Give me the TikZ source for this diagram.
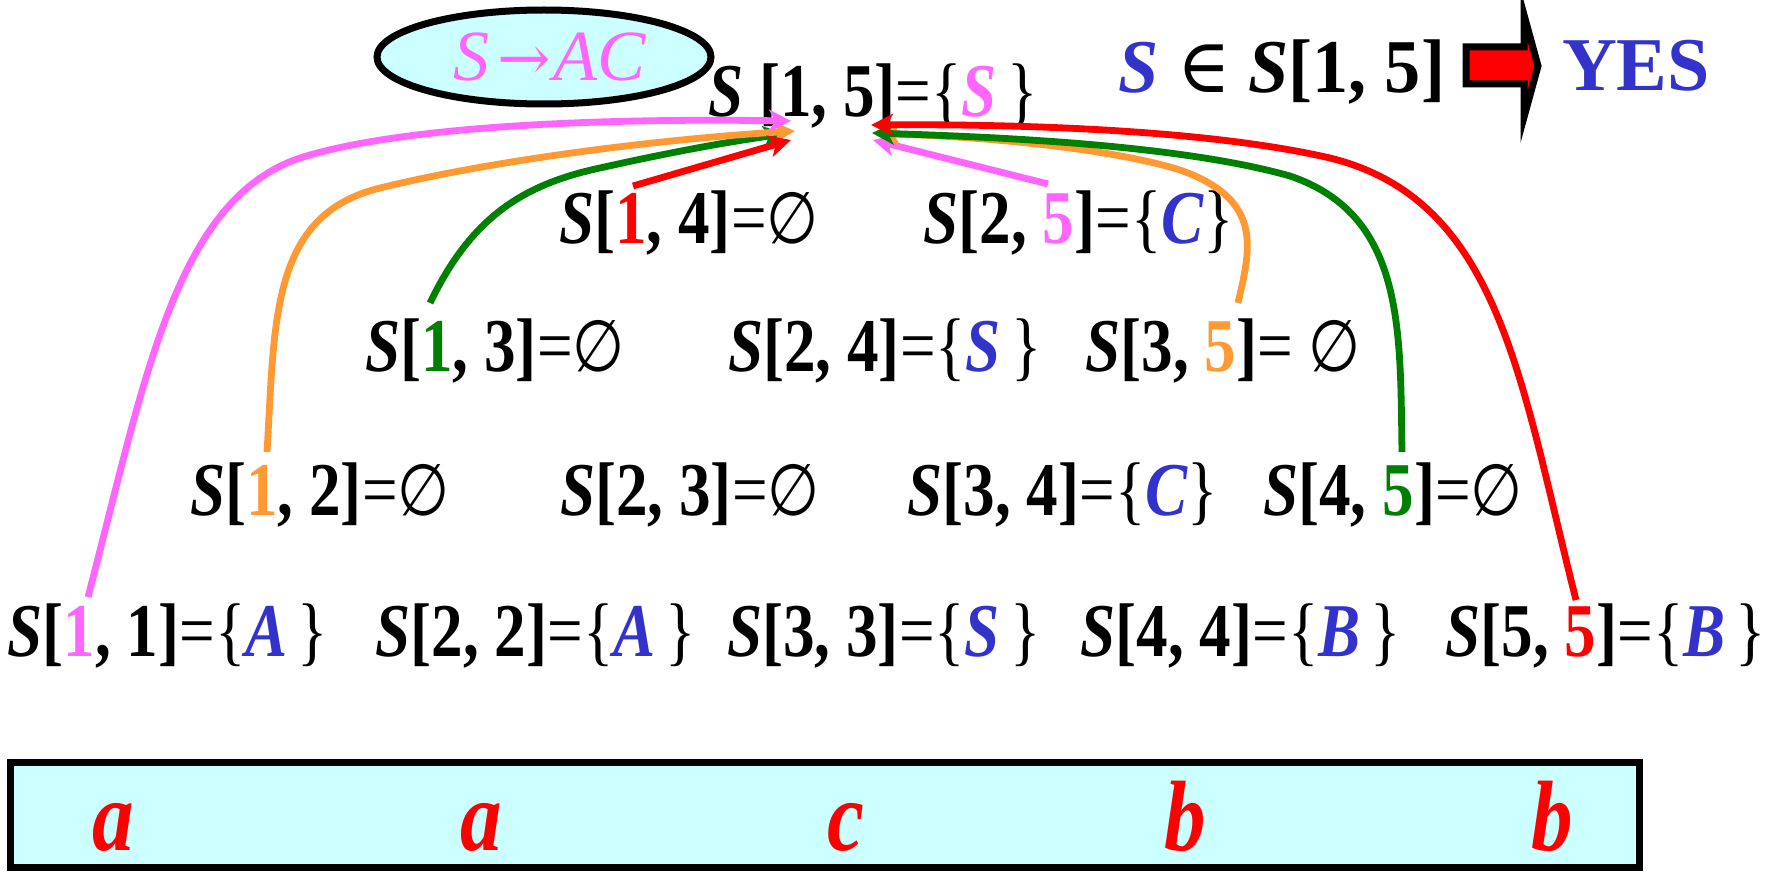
\documentclass[tikz,border=0pt]{standalone}
\usepackage{fontspec}
\setmainfont{Liberation Serif}
\newfontfamily\djs{DejaVu Sans}
\newfontfamily\djserif{DejaVu Serif}
\usepackage{graphicx}
\usetikzlibrary{arrows.meta,shapes.geometric}
\definecolor{pk}{HTML}{FF66FF}
\definecolor{og}{HTML}{FF9933}
\definecolor{gn}{HTML}{008000}
\definecolor{rd}{HTML}{FF0000}
\definecolor{bl}{HTML}{3333CC}
\definecolor{cy}{HTML}{CCFFFF}
\newcommand{\bS}{\textbf{\textit{S}}}
\newcommand{\mem}[1]{\textcolor{bl}{\textbf{\textit{#1}}}}
\newcommand{\cond}[1]{\scalebox{0.83}[1]{#1}}
\newcommand{\es}{{\djs\fontsize{36}{38}\selectfont ∅}}
\newcommand{\bb}[1]{\textbf{#1}}
\tikzset{
  cell/.style={inner sep=0pt, font=\fontsize{38}{40}\selectfont},
  conn/.style={line width=3.4pt, -{Stealth[length=11pt,width=11pt,inset=3pt]}},
  letter/.style={inner sep=0pt, anchor=base, text=rd, font=\fontsize{50}{52}\selectfont}
}
\begin{document}
\begin{tikzpicture}[x=0.5pt,y=-0.5pt]
\useasboundingbox (0,0) rectangle (1773,872);
% rule ellipse
\node[ellipse, draw, line width=3.5pt, fill=cy, minimum width=167pt, minimum height=47pt, inner sep=0pt,
      font=\fontsize{36}{38}\selectfont, text=pk] (rule) at (544,57) {\hspace*{6pt}\textit{S}\hspace{4pt}{\djserif\fontsize{32}{34}\selectfont →}\hspace{1pt}\textit{AC}};
% top
\node[cell] (s15) at (873,96) {\cond{\bS\ \bb{[1, 5]}=\{\textcolor{pk}{\bS}\,\}}};
\node[cell] (mem) at (1282,72) {\scalebox{0.95}[1]{\textcolor{bl}{\bS} {\djserif ∈} \bS\bb{[1, 5]}}};
\draw[line width=3.5pt, fill=rd, line join=miter] (1466,47) -- (1524,47) -- (1524,15) -- (1538,66) -- (1524,117) -- (1524,84) -- (1466,84) -- cycle;
\node[cell] (yes) at (1636,66) {\textcolor{bl}{\bb{YES}}};
% row 1
\node[cell] (s14) at (689,223) {\cond{\bS\bb{[\textcolor{rd}{1}, 4]}=\es}};
\node[cell] (s25) at (1079,223) {\cond{\bS\bb{[2, \textcolor{pk}{5}]}=\{\mem{C}\}}};
% row 2
\node[cell] (s13) at (495,351) {\cond{\bS\bb{[\textcolor{gn}{1}, 3]}=\es}};
\node[cell] (s24) at (885,351) {\cond{\bS\bb{[2, 4]}=\{\mem{S}\,\}}};
\node[cell] (s35) at (1223,351) {\cond{\bS\bb{[3, \textcolor{og}{5}]}= \es}};
% row 3
\node[cell] (s12) at (320,495) {\cond{\bS\bb{[\textcolor{og}{1}, 2]}=\es}};
\node[cell] (s23) at (690,495) {\cond{\bS\bb{[2, 3]}=\es}};
\node[cell] (s34) at (1063,495) {\cond{\bS\bb{[3, 4]}=\{\mem{C}\}}};
\node[cell] (s45) at (1393,495) {\cond{\bS\bb{[4, \textcolor{gn}{5}]}=\es}};
% row 4
\node[cell] (s11) at (168,636) {\cond{\bS\bb{[\textcolor{pk}{1}, 1]}=\{\mem{A}\,\}}};
\node[cell] (s22) at (536,636) {\cond{\bS\bb{[2, 2]}=\{\mem{A}\,\}}};
\node[cell] (s33) at (884,636) {\cond{\bS\bb{[3, 3]}=\{\mem{S}\,\}}};
\node[cell] (s44) at (1241,636) {\cond{\bS\bb{[4, 4]}=\{\mem{B}\,\}}};
\node[cell] (s55) at (1606,636) {\cond{\bS\bb{[5, \textcolor{rd}{5}]}=\{\mem{B}\,\}}};
% input box
\draw[line width=3.5pt, fill=cy] (10,762) rectangle (1639,867);
\node[letter] (l1) at (113,850) {\cond{\bb{\textit{a}}}};
\node[letter] (l2) at (481,850) {\cond{\bb{\textit{a}}}};
\node[letter] (l3) at (846,850) {\cond{\bb{\textit{c}}}};
\node[letter] (l4) at (1185,850) {\cond{\bb{\textit{b}}}};
\node[letter] (l5) at (1552,850) {\cond{\bb{\textit{b}}}};
% connector end points
\coordinate (gL0) at (430,303);  \coordinate (gL1) at (785,134);
\coordinate (oL0) at (267,452);  \coordinate (oL1) at (795,131);
\coordinate (pL0) at (88,597);   \coordinate (pL1) at (791,121);
\coordinate (rL0) at (633,186);  \coordinate (rL1) at (791,140);
\coordinate (pR0) at (1048,184); \coordinate (pR1) at (873,140);
\coordinate (oR0) at (1238,303); \coordinate (oR1) at (878,134);
\coordinate (gR0) at (1402,452); \coordinate (gR1) at (872,133);
\coordinate (rR0) at (1576,600); \coordinate (rR1) at (871,125);
% left group
\draw[conn, gn] (gL0) .. controls (470,220) and (520,185) .. (600,168) .. controls (680,150) and (740,140) .. (gL1);
\draw[conn, og] (oL0) .. controls (275,320) and (270,215) .. (380,188) .. controls (490,161) and (650,140) .. (oL1);
\draw[conn, pk] (pL0) .. controls (145,380) and (175,200) .. (300,158) .. controls (400,126) and (600,118) .. (pL1);
\draw[conn, rd] (rL0) -- (rL1);
% right group
\draw[conn, pk] (pR0) -- (pR1);
\draw[conn, og] (oR0) .. controls (1250,250) and (1265,200) .. (1180,170) .. controls (1100,145) and (950,135) .. (oR1);
\draw[conn, gn] (gR0) .. controls (1400,330) and (1405,215) .. (1290,176) .. controls (1180,145) and (1000,137) .. (gR1);
\draw[conn, rd] (rR0) .. controls (1520,380) and (1500,200) .. (1330,158) .. controls (1200,128) and (1000,124) .. (rR1);
\end{tikzpicture}
\end{document}
